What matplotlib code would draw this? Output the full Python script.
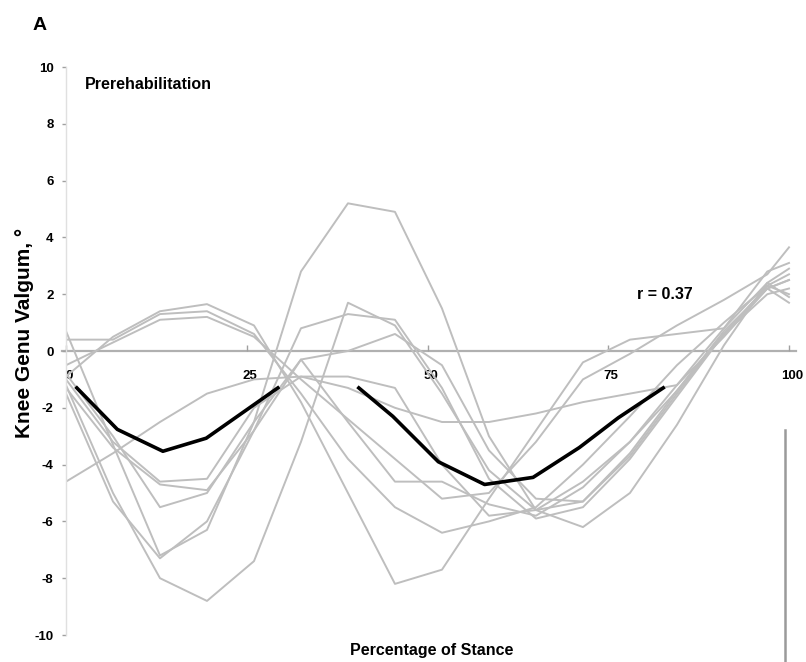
import matplotlib
matplotlib.use("Agg")
import matplotlib.pyplot as plt
import matplotlib.transforms as mtransforms

# ---------------- data ----------------
stance = [0, 6.5, 13, 19.5, 26, 32.5, 39, 45.5, 52, 58.5, 65, 71.5, 78, 84.5, 91, 97, 100]

subj_1 = [0.7, -3.3, -7.2, -6.3, -2.5, 2.8, 5.2, 4.9, 1.5, -3.0, -5.6, -6.2, -5.0, -2.6, 0.2, 2.4, 2.9]
subj_2 = [-1.2, -5.0, -8.0, -8.8, -7.4, -3.2, 1.7, 0.9, -1.5, -4.2, -5.6, -5.3, -3.6, -1.4, 0.6, 2.2, 2.5]
subj_3 = [-1.5, -5.3, -7.3, -6.0, -2.8, 0.8, 1.3, 1.1, -1.3, -4.5, -5.9, -5.5, -3.8, -1.6, 0.6, 2.0, 2.2]
subj_4 = [-0.8, -3.0, -5.5, -5.0, -2.5, -0.3, 0.0, 0.6, -0.5, -3.5, -5.2, -5.3, -3.7, -1.5, 0.6, 2.3, 2.7]
subj_5 = [-1.0, -3.2, -4.6, -4.5, -2.0, -0.9, -0.9, -1.3, -4.0, -5.8, -5.6, -4.6, -3.2, -1.4, 0.7, 2.2, 1.7]
subj_6 = [-0.9, 0.5, 1.4, 1.65, 0.9, -1.8, -5.0, -8.2, -7.7, -5.2, -2.8, -0.4, 0.4, 0.6, 0.8, 2.8, 3.1]
subj_7 = [0.4, 0.4, 1.3, 1.4, 0.6, -1.5, -3.8, -5.5, -6.4, -6.0, -5.5, -4.0, -2.3, -0.5, 1.0, 2.3, 2.0]
subj_8 = [-0.5, 0.3, 1.1, 1.2, 0.5, -1.0, -2.4, -3.8, -5.2, -5.0, -3.2, -1.0, -0.1, 0.9, 1.8, 2.7, 3.65]
subj_9 = [-4.6, -3.6, -2.5, -1.5, -1.0, -0.9, -1.3, -2.0, -2.5, -2.5, -2.2, -1.8, -1.5, -1.2, 0.5, 2.2, 2.5]
subj_10 = [-1.3, -3.4, -4.7, -4.9, -2.8, -0.3, -2.5, -4.6, -4.6, -5.4, -5.8, -4.8, -3.2, -1.2, 0.8, 2.4, 1.9]
subjects = [subj_1, subj_2, subj_3, subj_4, subj_5, subj_6, subj_7, subj_8, subj_9, subj_10]

mean_x1 = [1.5, 7.1, 13.4, 19.4, 29.3]
mean_y1 = [-1.3, -2.76, -3.53, -3.07, -1.3]
mean_x2 = [40.5, 45.2, 51.5, 57.9, 64.6, 71.0, 76.4, 82.6]
mean_y2 = [-1.3, -2.3, -3.9, -4.7, -4.45, -3.4, -2.35, -1.3]

x_ticks = [0, 25, 50, 75, 100]
y_ticks = [-10, -8, -6, -4, -2, 0, 2, 4, 6, 8, 10]

# ---------------- figure ----------------
W, H = 806, 662
fig = plt.figure(figsize=(W / 100, H / 100), dpi=100)
fam = ['Liberation Sans', 'DejaVu Sans']

x0_px, x100_px = 66, 789
ytop_px, ybot_px = 67, 635
left = x0_px / W
width = (x100_px - x0_px) / W
ax = fig.add_axes([left, (H - ybot_px) / H, width * 100.9 / 100, (ybot_px - ytop_px) / H])
ax.set_xlim(0, 100.9)
ax.set_ylim(-10, 10)

grey = '#bebebe'
for s in subjects:
    ax.plot(stance, s, color=grey, lw=1.4, zorder=2)

ax.plot(mean_x1, mean_y1, color='black', lw=2.6, zorder=3)
ax.plot(mean_x2, mean_y2, color='black', lw=2.6, zorder=3)

# spines
for sp in ['top', 'right']:
    ax.spines[sp].set_visible(False)
ax.spines['bottom'].set_position(('data', 0))
ax.spines['bottom'].set_color('#b0b0b0')
ax.spines['bottom'].set_linewidth(1.6)
ax.spines['bottom'].set_zorder(1)
ax.spines['left'].set_position(('data', 0))
ax.spines['left'].set_color('#e0e0e0')
ax.spines['left'].set_linewidth(1.0)
ax.plot([-0.6, 0], [0, 0], color='#b0b0b0', lw=1.6, clip_on=False, zorder=1)

ax.set_xticks(x_ticks)
ax.set_xticklabels([str(t) for t in x_ticks])
ax.set_yticks(y_ticks)
ax.set_yticklabels([str(t) for t in y_ticks])
ax.tick_params(axis='x', direction='in', length=4, width=1, color='#a0a0a0', pad=14)
ax.tick_params(axis='y', direction='out', length=3, width=1, color='#a0a0a0', pad=6)
offset = mtransforms.ScaledTranslation(3 / 100, 0, fig.dpi_scale_trans)
for lab in ax.get_xticklabels():
    lab.set_transform(lab.get_transform() + offset)
for lab in ax.get_xticklabels() + ax.get_yticklabels():
    lab.set_fontfamily(fam)
    lab.set_fontweight('bold')
    lab.set_fontsize(9.5)

ax.text(2.6, 9.4, 'Prerehabilitation', family=fam, fontweight='bold', fontsize=11.5,
        va='center', ha='left')
ax.text(79.0, 2.0, 'r = 0.37', family=fam, fontweight='bold', fontsize=11.5,
        va='center', ha='left')

fig.text(40 / W, 1 - 26 / H, 'A', family=fam, fontweight='bold', fontsize=14,
         va='center', ha='center')
fig.text(25 / W, 1 - 333 / H, 'Knee Genu Valgum, °', family=fam, fontweight='bold',
         fontsize=15, rotation=90, va='center', ha='center')
fig.text(432 / W, 1 - 651 / H, 'Percentage of Stance', family=fam, fontweight='bold',
         fontsize=11.5, va='center', ha='center')

# stray vertical rule at the lower right
fig.add_artist(plt.Line2D([785 / W, 785 / W], [0, 1 - 430 / H], color='#9a9a9a', lw=1.8))

fig.savefig('out.png', dpi=100)
